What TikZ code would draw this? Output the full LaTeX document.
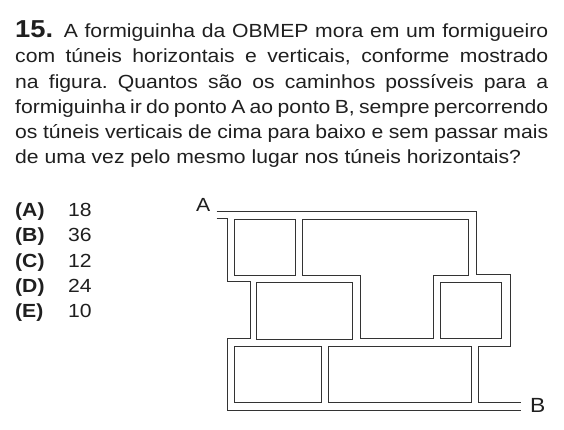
\documentclass[tikz,border=0pt]{standalone}
\usepackage{fontspec}
\setmainfont{Liberation Sans}[FakeStretch=1.114]
\frenchspacing
\begin{document}
\begin{tikzpicture}[x=1pt,y=-1pt,
  txt/.style={inner sep=0pt,anchor=base west,text=black!88,font=\fontsize{19}{21}\selectfont},
  ans/.style={inner sep=0pt,anchor=base west,text=black!88,font=\fontsize{19}{21}\selectfont},
  tunnel/.style={draw=black!80,line width=0.95pt,line join=miter}]
\useasboundingbox (0,0) rectangle (564,430);
% question text
\node[txt] (l1) at (15,37.7) {\makebox[533pt][s]{{\fontsize{24.5}{26}\selectfont\bfseries 15.}\hspace{4pt} A formiguinha da OBMEP mora em um formigueiro}};
\node[txt] (l2) at (15,63) {\makebox[533pt][s]{com túneis horizontais e verticais, conforme mostrado}};
\node[txt] (l3) at (15,88.2) {\makebox[533pt][s]{na figura. Quantos são os caminhos possíveis para a}};
\node[txt] (l4) at (15,113.5) {\makebox[533pt][s]{formiguinha ir do ponto A ao ponto B, sempre percorrendo}};
\node[txt] (l5) at (15,138.5) {\makebox[533pt][s]{os túneis verticais de cima para baixo e sem passar mais}};
\node[txt] (l6) at (15,163.5) {de uma vez pelo mesmo lugar nos túneis horizontais?};
% answers
\foreach \l/\v/\i in {A/18/0,B/36/1,C/12/2,D/24/3,E/10/4}{
  \node[ans] (opt\l) at (15,216.2+25.4*\i) {\bfseries(\l)};
  \node[ans] (val\l) at (68,216.2+25.4*\i) {\v};
}
% labels
\node[ans] (labA) at (196,211.7) {A};
\node[ans,font=\fontsize{20.5}{22}\selectfont] (labB) at (530,412.7) {B};
% outer tunnel walls
\draw[tunnel] (216.7,211) -- (476,211) -- (476,274.3) -- (510,274.3) -- (510,346.7)
  -- (478.7,346.7) -- (478.7,402.3) -- (521,402.3);
\draw[tunnel] (216.7,218.7) -- (227.3,218.7) -- (227.3,281.7) -- (250,281.7) -- (250,338.3)
  -- (227.3,338.3) -- (227.3,410) -- (521,410);
% blocks
\draw[tunnel] (234.3,219) rectangle (295.7,275.7);
\draw[tunnel] (302.7,219) -- (468.7,219) -- (468.7,275.3) -- (433.3,275.3) -- (433.3,338.3)
  -- (360,338.3) -- (360,275.3) -- (302.7,275.3) -- cycle;
\draw[tunnel] (256.7,282.7) rectangle (352.7,339);
\draw[tunnel] (440,282.7) rectangle (501.7,338.3);
\draw[tunnel] (234.3,346) rectangle (321,402.3);
\draw[tunnel] (328,346) rectangle (471.7,402.3);
\end{tikzpicture}
\end{document}
